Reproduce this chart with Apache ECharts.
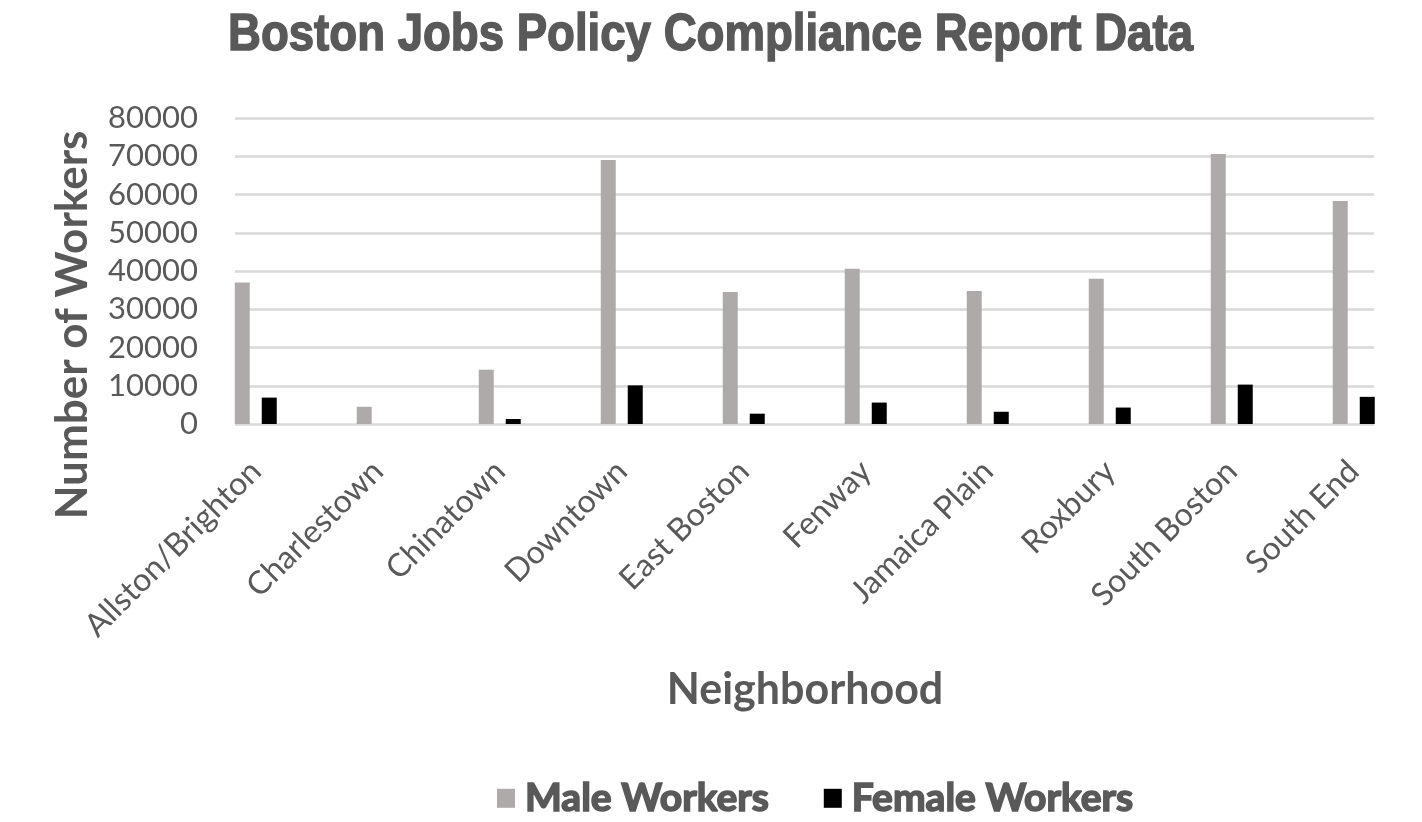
<!DOCTYPE html>
<html><head><meta charset="utf-8">
<script src="https://cdn.jsdelivr.net/npm/echarts@6/dist/echarts.min.js"></script>
<style>html,body{margin:0;padding:0;background:#fff}#c{width:1422px;height:822px}</style>
</head><body><div id="c"></div>
<script>
const categories = ['Allston/Brighton','Charlestown','Chinatown','Downtown','East Boston','Fenway','Jamaica Plain','Roxbury','South Boston','South End'];
const maleWorkers = [37000, 4500, 14200, 69000, 34500, 40600, 34800, 38000, 70600, 58300];
const femaleWorkers = [6900, 0, 1300, 10100, 2700, 5600, 3200, 4300, 10300, 7100];
const seriesNames = ['Male Workers', 'Female Workers'];
const yMin = 0, yMax = 80000, yStep = 10000;
const titleText = 'Boston Jobs Policy Compliance Report Data';

const txt = '#595959';
const font = 'Lato, "Open Sans", sans-serif';
const titleFont = 'bold 52px "Liberation Sans", Arial, sans-serif';
const cv = document.createElement('canvas').getContext('2d');
cv.font = titleFont;
const titleScale = 965 / cv.measureText(titleText).width;
const legendText = { fontFamily: 'Lato', fontWeight: 'bold', fontSize: 39, color: txt, padding: [0, 0, 0, 5],
  textBorderColor: txt, textBorderWidth: 1.6 };

const chart = echarts.init(document.getElementById('c'));
chart.setOption({
  backgroundColor: '#fff',
  animation: false,
  legend: {
    data: seriesNames,
    left: 492, top: 773, icon: 'rect', itemWidth: 18, itemHeight: 19, itemGap: 54,
    textStyle: legendText
  },
  grid: [
    { left: 235, top: 118, width: 1139, height: 306 },
    { left: 255.75, top: 118, width: 1098, height: 306 }
  ],
  xAxis: [
    { gridIndex: 0, type: 'value', show: false, min: 0, max: 1 },
    { gridIndex: 1, type: 'category', data: categories, boundaryGap: false,
      axisLine: { show: false }, axisTick: { show: false }, splitLine: { show: false },
      axisLabel: { rotate: 45, margin: 42, interval: 0, fontSize: 32, color: txt, fontFamily: font } }
  ],
  yAxis: [
    { gridIndex: 0, type: 'value', min: yMin, max: yMax, interval: yStep,
      axisLine: { show: false }, axisTick: { show: false },
      axisLabel: { margin: 37, fontSize: 31, color: txt, fontFamily: font, formatter: v => String(v) },
      splitLine: { lineStyle: { color: '#d9d9d9', width: 2.5 } } },
    { gridIndex: 1, type: 'value', min: yMin, max: yMax, interval: yStep, show: false, splitLine: { show: false } }
  ],
  series: [
    { name: seriesNames[0], type: 'bar', xAxisIndex: 1, yAxisIndex: 1, data: maleWorkers, barWidth: 15, barGap: '80%', itemStyle: { color: '#aeaaaa' } },
    { name: seriesNames[1], type: 'bar', xAxisIndex: 1, yAxisIndex: 1, data: femaleWorkers, barWidth: 15, barGap: '80%', itemStyle: { color: '#000000' } }
  ],
  graphic: [
    { type: 'text', x: 710.5, y: 36, scaleX: titleScale,
      style: { text: titleText, font: titleFont, fill: txt, stroke: txt, lineWidth: 1.5, textAlign: 'center', textVerticalAlign: 'middle' } },
    { type: 'text', x: 73, y: 325, rotation: Math.PI / 2,
      style: { text: 'Number of Workers', font: 'bold 44px Lato, sans-serif', fill: txt, textAlign: 'center', textVerticalAlign: 'middle' } },
    { type: 'text', x: 805, y: 690,
      style: { text: 'Neighborhood', font: 'bold 43px Lato, sans-serif', fill: txt, textAlign: 'center', textVerticalAlign: 'middle' } }
  ]
});
</script></body></html>
